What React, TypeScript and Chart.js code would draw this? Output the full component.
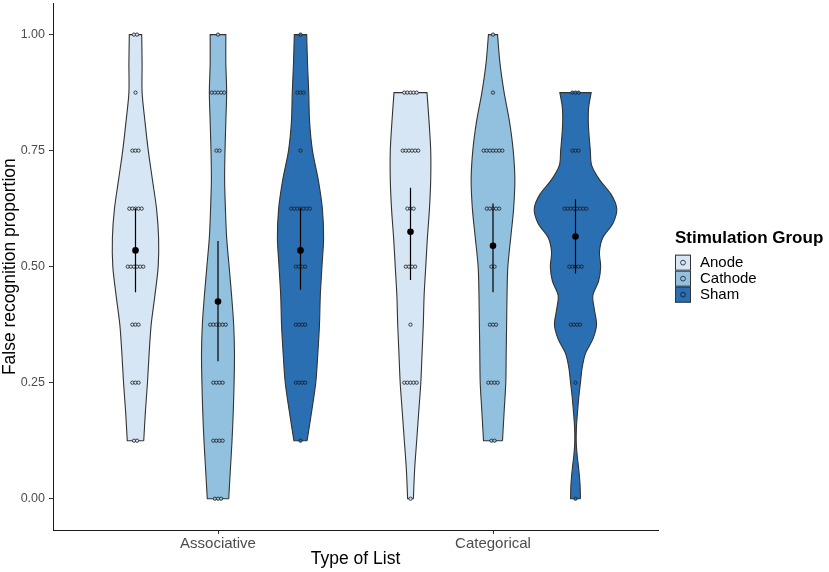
import React, { useEffect, useRef } from "react";
import { Chart, registerables } from "chart.js";

Chart.register(...registerables);

// ---------- data ----------
const categories = ["Associative", "Categorical"];
const groups = ["Anode", "Cathode", "Sham"];
const yTicks = [0, 0.25, 0.5, 0.75, 1];
const yTickLabels = ["0.00", "0.25", "0.50", "0.75", "1.00"];
const xTitle = "Type of List";
const yTitle = "False recognition proportion";
const legendTitle = "Stimulation Group";

// individual observations (dots)
const assocAnode = [1, 1, 0.875, 0.75, 0.75, 0.75, 0.625, 0.625, 0.625, 0.625, 0.625, 0.5, 0.5, 0.5, 0.5, 0.5, 0.5, 0.375, 0.375, 0.375, 0.25, 0.25, 0.25, 0.125, 0.125];
const assocCathode = [1, 0.875, 0.875, 0.875, 0.875, 0.875, 0.75, 0.75, 0.375, 0.375, 0.375, 0.375, 0.375, 0.375, 0.25, 0.25, 0.25, 0.25, 0.125, 0.125, 0.125, 0.125, 0, 0, 0];
const assocSham = [1, 0.875, 0.875, 0.875, 0.75, 0.625, 0.625, 0.625, 0.625, 0.625, 0.625, 0.625, 0.5, 0.5, 0.5, 0.5, 0.375, 0.375, 0.375, 0.375, 0.25, 0.25, 0.25, 0.25, 0.125];
const catAnode = [0.875, 0.875, 0.875, 0.875, 0.875, 0.75, 0.75, 0.75, 0.75, 0.75, 0.75, 0.625, 0.625, 0.625, 0.5, 0.5, 0.5, 0.5, 0.375, 0.25, 0.25, 0.25, 0.25, 0.25, 0];
const catCathode = [1, 0.875, 0.75, 0.75, 0.75, 0.75, 0.75, 0.75, 0.75, 0.625, 0.625, 0.625, 0.625, 0.625, 0.5, 0.5, 0.375, 0.375, 0.375, 0.25, 0.25, 0.25, 0.25, 0.125, 0.125];
const catSham = [0.875, 0.875, 0.875, 0.75, 0.75, 0.75, 0.625, 0.625, 0.625, 0.625, 0.625, 0.625, 0.625, 0.625, 0.5, 0.5, 0.5, 0.5, 0.5, 0.375, 0.375, 0.375, 0.375, 0.25, 0];

// violin outlines: y levels and relative widths (1 = widest violin)
const assocAnodeY = [0.125, 0.1875, 0.25, 0.3125, 0.375, 0.4375, 0.5, 0.5625, 0.625, 0.6875, 0.75, 0.8125, 0.875, 0.9375, 1];
const assocAnodeW = [0.2, 0.24, 0.29, 0.33, 0.38, 0.47, 0.55, 0.56, 0.51, 0.41, 0.31, 0.23, 0.16, 0.16, 0.15];
const assocCathodeY = [0, 0.0625, 0.125, 0.1875, 0.25, 0.3125, 0.375, 0.4375, 0.5, 0.5625, 0.625, 0.6875, 0.75, 0.8125, 0.875, 0.9375, 1];
const assocCathodeW = [0.26, 0.3, 0.34, 0.37, 0.39, 0.4, 0.38, 0.33, 0.27, 0.21, 0.18, 0.16, 0.17, 0.19, 0.21, 0.19, 0.19];
const assocShamY = [0.125, 0.1875, 0.25, 0.3125, 0.375, 0.4375, 0.5, 0.5625, 0.625, 0.6875, 0.75, 0.8125, 0.875, 0.9375, 1];
const assocShamW = [0.16, 0.27, 0.37, 0.42, 0.46, 0.48, 0.52, 0.56, 0.53, 0.43, 0.29, 0.22, 0.2, 0.17, 0.15];
const catAnodeY = [0, 0.0625, 0.125, 0.1875, 0.25, 0.3125, 0.375, 0.4375, 0.5, 0.5625, 0.625, 0.6875, 0.75, 0.8125, 0.875];
const catAnodeW = [0.07, 0.1, 0.15, 0.2, 0.25, 0.28, 0.31, 0.33, 0.37, 0.41, 0.46, 0.49, 0.49, 0.45, 0.4];
const catCathodeY = [0.125, 0.1875, 0.25, 0.3125, 0.375, 0.4375, 0.5, 0.5625, 0.625, 0.6875, 0.75, 0.8125, 0.875, 0.9375, 1];
const catCathodeW = [0.23, 0.27, 0.31, 0.32, 0.33, 0.34, 0.36, 0.43, 0.5, 0.53, 0.49, 0.4, 0.27, 0.17, 0.11];
const catShamY = [0, 0.03125, 0.0625, 0.09375, 0.125, 0.15625, 0.1875, 0.21875, 0.25, 0.28125, 0.3125, 0.34375, 0.375, 0.40625, 0.4375, 0.46875, 0.5, 0.53125, 0.5625, 0.59375, 0.625, 0.65625, 0.6875, 0.71875, 0.75, 0.78125, 0.8125, 0.84375, 0.875];
const catShamW = [0.12, 0.11, 0.08, 0.04, 0.017, 0.024, 0.05, 0.08, 0.12, 0.16, 0.24, 0.42, 0.51, 0.46, 0.42, 0.56, 0.61, 0.58, 0.66, 0.91, 1.0, 0.86, 0.58, 0.39, 0.36, 0.33, 0.31, 0.32, 0.38];

// confidence interval ends (error bars), order: Assoc A/C/S, Cat A/C/S
const ciLow = [0.445, 0.296, 0.45, 0.471, 0.445, 0.485];
const ciHigh = [0.626, 0.555, 0.626, 0.67, 0.636, 0.645];

// ---------- styling ----------
const FONT = "'Liberation Sans', Arial, Helvetica, sans-serif";
const fills = ["#D6E6F4", "#92C0DF", "#2B6FB3"];
const OUTLINE = "#333333";
const X_MIN = 0.4, X_MAX = 2.6, Y_MIN = -0.0674, Y_MAX = 1.0674;
const DODGE = 0.3;
const HALF_MAX = 0.15;
const DOT_STEP = 0.0113;

const violins = [
  { cat: 0, grp: 0, obs: assocAnode, ys: assocAnodeY, ws: assocAnodeW },
  { cat: 0, grp: 1, obs: assocCathode, ys: assocCathodeY, ws: assocCathodeW },
  { cat: 0, grp: 2, obs: assocSham, ys: assocShamY, ws: assocShamW },
  { cat: 1, grp: 0, obs: catAnode, ys: catAnodeY, ws: catAnodeW },
  { cat: 1, grp: 1, obs: catCathode, ys: catCathodeY, ws: catCathodeW },
  { cat: 1, grp: 2, obs: catSham, ys: catShamY, ws: catShamW },
];

function centerOf(cat: number, grp: number) {
  return cat + 1 + (grp - 1) * DODGE;
}

function violinPath(c: number, ys: number[], ws: number[]) {
  const n = ys.length;
  const R = ys.map((y, i) => ({ x: c + ws[i] * HALF_MAX, y }));
  const L = ys.map((y, i) => ({ x: c - ws[i] * HALF_MAX, y }));
  const pts: { x: number; y: number }[] = [];
  pts.push(R[0], R[0]);
  for (let i = 1; i < n - 1; i++) pts.push(R[i]);
  pts.push(R[n - 1], R[n - 1], L[n - 1], L[n - 1]);
  for (let i = n - 2; i > 0; i--) pts.push(L[i]);
  pts.push(L[0], L[0], R[0]);
  return pts.map((p) => ({ x: p.x, y: p.y }));
}

function dotPositions(c: number, obs: number[]) {
  const counts = new Map<number, number>();
  obs.forEach((v) => counts.set(v, (counts.get(v) || 0) + 1));
  const out: { x: number; y: number }[] = [];
  counts.forEach((n, v) => {
    for (let k = 0; k < n; k++) out.push({ x: c + (k - (n - 1) / 2) * DOT_STEP, y: v });
  });
  return out;
}

const legendPlugin = {
  id: "ggLegend",
  afterDraw(chart: any) {
    const { ctx, chartArea } = chart;
    const x0 = chartArea.right + 17;
    const mid = (chartArea.top + chartArea.bottom) / 2;
    ctx.save();
    ctx.textAlign = "left";
    ctx.textBaseline = "middle";
    ctx.fillStyle = "#000";
    ctx.font = `bold 17px ${FONT}`;
    ctx.fillText(legendTitle, x0, mid - 28);
    const keyTop = mid - 12;
    groups.forEach((g, i) => {
      const top = keyTop + i * 16;
      ctx.fillStyle = fills[i];
      ctx.fillRect(x0, top, 16, 16);
      ctx.strokeStyle = OUTLINE;
      ctx.lineWidth = 1;
      ctx.strokeRect(x0 + 0.5, top + 0.5, 15, 15);
      ctx.beginPath();
      ctx.arc(x0 + 8, top + 8, 2.4, 0, Math.PI * 2);
      ctx.fillStyle = fills[i];
      ctx.fill();
      ctx.strokeStyle = "#1a1a1a";
      ctx.lineWidth = 0.8;
      ctx.stroke();
      ctx.fillStyle = "#000";
      ctx.font = `15px ${FONT}`;
      ctx.fillText(g, x0 + 25, top + 8.5);
    });
    ctx.restore();
  },
};

export default function App() {
  const ref = useRef<HTMLCanvasElement>(null);

  useEffect(() => {
    if (!ref.current) return;
    const datasets: any[] = [];

    violins.forEach((v) => {
      const c = centerOf(v.cat, v.grp);
      datasets.push({
        type: "line",
        data: violinPath(c, v.ys, v.ws),
        borderColor: OUTLINE,
        borderWidth: 1.1,
        backgroundColor: fills[v.grp],
        fill: "shape",
        pointRadius: 0,
        pointHoverRadius: 0,
        tension: 0.3,
        order: 4,
      });
    });

    groups.forEach((g, gi) => {
      const pts: { x: number; y: number }[] = [];
      violins.filter((v) => v.grp === gi).forEach((v) => {
        pts.push(...dotPositions(centerOf(v.cat, v.grp), v.obs));
      });
      datasets.push({
        type: "scatter",
        label: g,
        data: pts,
        pointRadius: 1.65,
        pointHoverRadius: 1.65,
        backgroundColor: fills[gi],
        borderColor: "#1a1a1a",
        borderWidth: 0.8,
        order: 3,
      });
    });

    violins.forEach((v, i) => {
      const c = centerOf(v.cat, v.grp);
      datasets.push({
        type: "line",
        data: [
          { x: c, y: ciLow[i] },
          { x: c, y: ciHigh[i] },
        ],
        borderColor: "#000",
        borderWidth: 1.2,
        pointRadius: 0,
        pointHoverRadius: 0,
        fill: false,
        order: 2,
      });
    });

    datasets.push({
      type: "scatter",
      data: violins.map((v) => ({
        x: centerOf(v.cat, v.grp),
        y: v.obs.reduce((a, b) => a + b, 0) / v.obs.length,
      })),
      pointRadius: 3.3,
      pointHoverRadius: 3.3,
      backgroundColor: "#000",
      borderWidth: 0,
      order: 1,
    });

    const chart = new Chart(ref.current, {
      type: "scatter",
      data: { datasets },
      options: {
        responsive: false,
        animation: false,
        events: [],
        layout: { padding: { left: 0, right: 171, top: 3, bottom: 0 } },
        plugins: { legend: { display: false }, tooltip: { enabled: false } },
        scales: {
          x: {
            type: "linear",
            min: X_MIN,
            max: X_MAX,
            afterBuildTicks: (s: any) => {
              s.ticks = categories.map((_, i) => ({ value: i + 1 }));
            },
            afterFit: (s: any) => {
              s.height = 42;
              s.paddingLeft = 0;
              s.paddingRight = 0;
            },
            ticks: {
              autoSkip: false,
              maxRotation: 0,
              padding: 1,
              color: "#4D4D4D",
              font: { family: FONT, size: 15 },
              callback: (val: any) => categories[Math.round(Number(val)) - 1] ?? "",
            },
            grid: { display: true, drawOnChartArea: false, drawTicks: true, tickLength: 4, color: "#333333", lineWidth: 1 },
            border: { display: true, color: "#1a1a1a", width: 1 },
            title: { display: true, text: xTitle, color: "#000", font: { family: FONT, size: 17.5 }, padding: { top: 0, bottom: 2 } },
          },
          y: {
            type: "linear",
            min: Y_MIN,
            max: Y_MAX,
            afterBuildTicks: (s: any) => {
              s.ticks = yTicks.map((v) => ({ value: v }));
            },
            afterFit: (s: any) => {
              s.width = 53;
              s.paddingTop = 0;
              s.paddingBottom = 0;
            },
            ticks: {
              autoSkip: false,
              padding: 4,
              color: "#4D4D4D",
              font: { family: FONT, size: 12.5 },
              callback: (val: any) => {
                const i = yTicks.indexOf(Number(val));
                return i >= 0 ? yTickLabels[i] : "";
              },
            },
            grid: { display: true, drawOnChartArea: false, drawTicks: true, tickLength: 4, color: "#333333", lineWidth: 1 },
            border: { display: true, color: "#1a1a1a", width: 1 },
            title: { display: true, text: yTitle, color: "#000", font: { family: FONT, size: 17.5 }, padding: { top: 0, bottom: 0 } },
          },
        },
      } as any,
      plugins: [legendPlugin],
    });

    return () => chart.destroy();
  }, []);

  return (
    <div style={{ position: "fixed", left: 0, top: 0, width: 829, height: 572, background: "#fff" }}>
      <canvas ref={ref} width={829} height={572} style={{ display: "block", width: 829, height: 572 }} />
    </div>
  );
}
